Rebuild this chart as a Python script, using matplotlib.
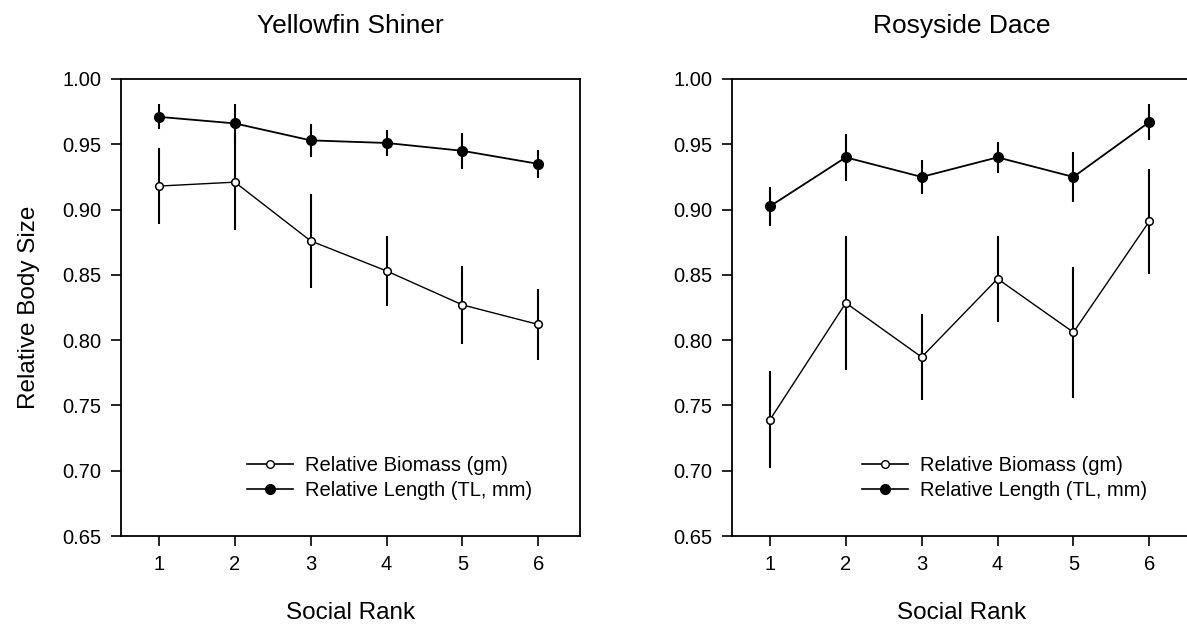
import matplotlib
matplotlib.use('Agg')
import matplotlib.pyplot as plt
from matplotlib.lines import Line2D

plt.rcParams['font.family'] = ['Liberation Sans', 'DejaVu Sans']

rank = [1, 2, 3, 4, 5, 6]

# Yellowfin Shiner
ys_biomass = [0.918, 0.921, 0.876, 0.853, 0.827, 0.812]
ys_biomass_err = [0.029, 0.037, 0.036, 0.027, 0.030, 0.0275]
ys_length = [0.971, 0.966, 0.953, 0.951, 0.945, 0.935]
ys_length_err = [0.0095, 0.015, 0.0125, 0.010, 0.014, 0.0105]

# Rosyside Dace
rd_biomass = [0.739, 0.8285, 0.787, 0.847, 0.806, 0.891]
rd_biomass_err = [0.037, 0.051, 0.033, 0.033, 0.050, 0.040]
rd_length = [0.9025, 0.940, 0.925, 0.940, 0.925, 0.967]
rd_length_err = [0.015, 0.018, 0.013, 0.012, 0.019, 0.014]

titles = ['Yellowfin Shiner', 'Rosyside Dace']
yticks = [0.65, 0.70, 0.75, 0.80, 0.85, 0.90, 0.95, 1.00]
label_bio = 'Relative Biomass (gm)'
label_len = 'Relative Length (TL, mm)'

W, H = 1187, 626
fig = plt.figure(figsize=(W / 100, H / 100), dpi=100)

ax1 = fig.add_axes([121 / W, 1 - 536 / H, 459 / W, 457 / H])
ax2 = fig.add_axes([732 / W, 1 - 536 / H, 459 / W, 457 / H])

panels = [(ax1, ys_biomass, ys_biomass_err, ys_length, ys_length_err, 247),
          (ax2, rd_biomass, rd_biomass_err, rd_length, rd_length_err, 862)]

for i, (ax, bio, bio_err, ln, ln_err, leg_x) in enumerate(panels):
    ax.errorbar(rank, bio, yerr=bio_err, color='black', lw=1.0, elinewidth=1.5,
                capsize=0, marker='o', markersize=5.5, mfc='white', mec='black',
                mew=1.1, zorder=2)
    ax.errorbar(rank, ln, yerr=ln_err, color='black', lw=1.3, elinewidth=1.5,
                capsize=0, marker='o', markersize=7, mfc='black', mec='black',
                zorder=3)
    ax.set_xlim(0.5, 6.55)
    ax.set_ylim(0.65, 1.00)
    ax.set_xticks(rank)
    ax.set_yticks(yticks)
    ax.set_yticklabels([f'{t:.2f}' for t in yticks])
    ax.tick_params(direction='out', length=7, width=1.2, labelsize=14.5, pad=7)
    for sp in ax.spines.values():
        sp.set_linewidth(1.3)
    ax.set_xlabel('Social Rank', fontsize=17.5, labelpad=20)
    ax.set_title(titles[i], fontsize=19, pad=33)

    handles = [Line2D([], [], color='black', lw=1.2, marker='o', markersize=5.5,
                      mfc='white', mec='black'),
               Line2D([], [], color='black', lw=1.2, marker='o', markersize=7,
                      mfc='black', mec='black')]
    fig.legend(handles, [label_bio, label_len], loc='upper left',
               bbox_to_anchor=(leg_x / W, 1 - 456 / H), frameon=False,
               fontsize=14.5, handlelength=2.3, handletextpad=0.6,
               labelspacing=0.3, borderpad=0, borderaxespad=0)

ax1.set_ylabel('Relative Body Size', fontsize=17.5, labelpad=16)

fig.savefig('out.png', dpi=100)
